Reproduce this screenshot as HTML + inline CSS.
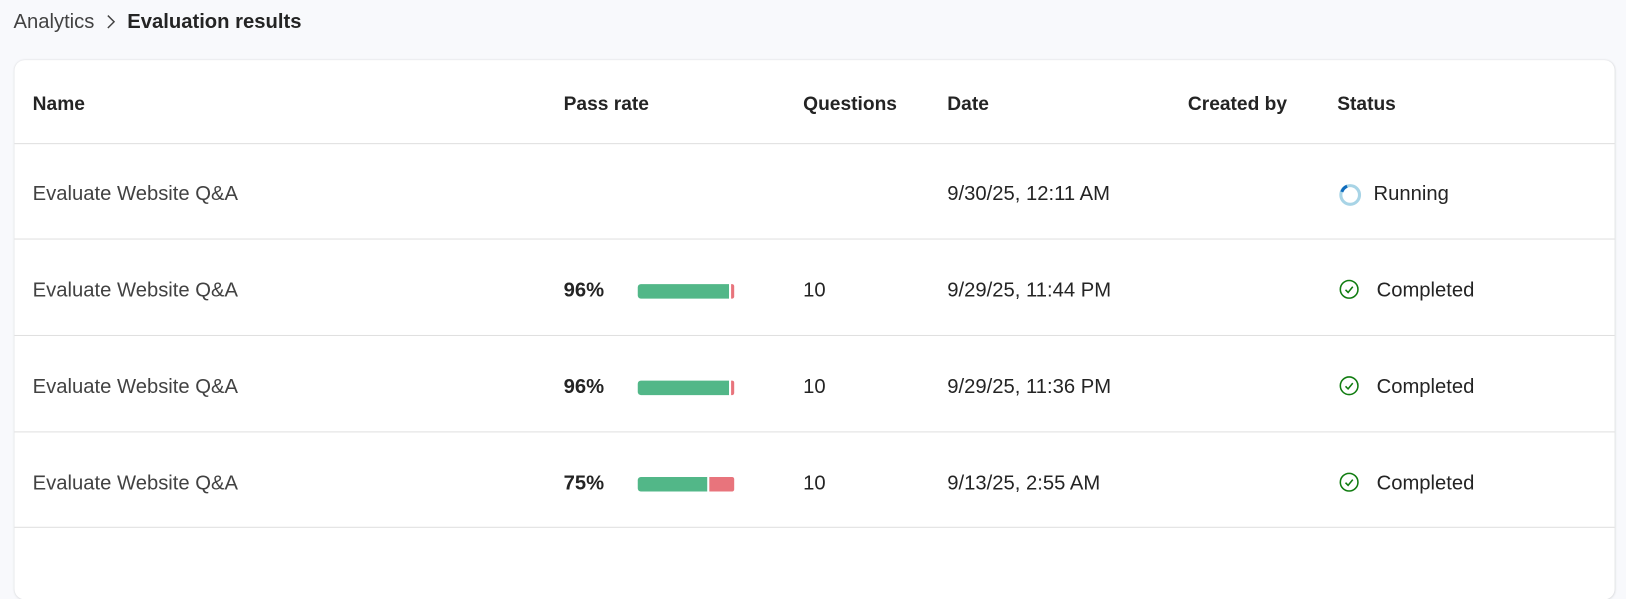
<!DOCTYPE html>
<html><head><style>
body{margin:0;width:1626px;height:531px;background:#f8f9fc;font-family:"Liberation Sans",sans-serif;color:#242424;overflow:hidden;position:relative}
.w{position:absolute;left:0;top:0;width:1568px;height:520px;transform:scale(1.037);transform-origin:0 0}
.bc{position:absolute;top:10px;left:13px;font-size:19.5px}
.bc .a{color:#424242}
.bc b{font-weight:bold;color:#242424}
.card{position:absolute;left:13.5px;top:58px;width:1543px;height:520px;background:#fff;border-radius:10px;box-shadow:0 0 2px rgba(0,0,0,.12),0 1px 3px rgba(0,0,0,.06)}
.row{position:absolute;left:0;width:1543px;border-bottom:1px solid #e0e0e0}
.t{position:absolute;font-size:19.5px;white-space:nowrap}
.h{font-weight:bold;font-size:18.5px}
.bar{position:absolute;left:601px;height:14px;width:93px}
.g{position:absolute;left:0;top:0;height:14px;background:#52b788;border-radius:3px 0 0 3px}
.r{position:absolute;top:0;height:14px;background:#e8747c;border-radius:0 2px 2px 0}
</style></head><body>
<div class="w">
<div class="bc"><span class="a">Analytics</span>&nbsp;&nbsp;<svg width="10" height="14" style="vertical-align:-1px"><path d="M2 1 L8 7 L2 13" fill="none" stroke="#424242" stroke-width="1.4"/></svg>&nbsp;&nbsp;<b>Evaluation results</b></div>
<div class="card">
<div class="row" style="top:0;height:80px">
<div class="t h" style="left:18px;top:31px">Name</div>
<div class="t h" style="left:530px;top:31px">Pass rate</div>
<div class="t h" style="left:761px;top:31px">Questions</div>
<div class="t h" style="left:900px;top:31px">Date</div>
<div class="t h" style="left:1132px;top:31px">Created by</div>
<div class="t h" style="left:1276px;top:31px">Status</div>
</div>
<div class="row" style="top:80px;height:92px">
<div class="t" style="left:18px;top:38px;color:#424242">Evaluate Website Q&amp;A</div>
<div class="t" style="left:900px;top:38px">9/30/25, 12:11 AM</div>
<svg style="position:absolute;left:1277px;top:39px" width="22" height="22"><circle cx="11" cy="11" r="9" fill="none" stroke="#a8d4e6" stroke-width="3"/><path d="M3 8 A9 9 0 0 1 8 2.5" fill="none" stroke="#0f6cbd" stroke-width="3"/></svg>
<div class="t" style="left:1311px;top:38px">Running</div>
</div>
<div class="row" style="top:173px;height:92px">
<div class="t" style="left:18px;top:38px;color:#424242">Evaluate Website Q&amp;A</div>
<div class="t" style="left:530px;top:38px;font-weight:bold">96%</div>
<div class="bar" style="top:43px"><div class="g" style="width:88px"></div><div class="r" style="left:90px;width:3px"></div></div>
<div class="t" style="left:761px;top:38px">10</div>
<div class="t" style="left:900px;top:38px">9/29/25, 11:44 PM</div>
<svg style="position:absolute;left:1277px;top:38px" width="22" height="22"><circle cx="10" cy="10" r="8.5" fill="none" stroke="#107c10" stroke-width="1.5"/><path d="M6.5 10.5 L9 13 L13.5 7.5" fill="none" stroke="#107c10" stroke-width="1.5"/></svg>
<div class="t" style="left:1314px;top:38px">Completed</div>
</div>
<div class="row" style="top:266px;height:92px">
<div class="t" style="left:18px;top:38px;color:#424242">Evaluate Website Q&amp;A</div>
<div class="t" style="left:530px;top:38px;font-weight:bold">96%</div>
<div class="bar" style="top:43px"><div class="g" style="width:88px"></div><div class="r" style="left:90px;width:3px"></div></div>
<div class="t" style="left:761px;top:38px">10</div>
<div class="t" style="left:900px;top:38px">9/29/25, 11:36 PM</div>
<svg style="position:absolute;left:1277px;top:38px" width="22" height="22"><circle cx="10" cy="10" r="8.5" fill="none" stroke="#107c10" stroke-width="1.5"/><path d="M6.5 10.5 L9 13 L13.5 7.5" fill="none" stroke="#107c10" stroke-width="1.5"/></svg>
<div class="t" style="left:1314px;top:38px">Completed</div>
</div>
<div class="row" style="top:358px;height:92px">
<div class="t" style="left:18px;top:39px;color:#424242">Evaluate Website Q&amp;A</div>
<div class="t" style="left:530px;top:39px;font-weight:bold">75%</div>
<div class="bar" style="top:44px"><div class="g" style="width:67px"></div><div class="r" style="left:69px;width:24px"></div></div>
<div class="t" style="left:761px;top:39px">10</div>
<div class="t" style="left:900px;top:39px">9/13/25, 2:55 AM</div>
<svg style="position:absolute;left:1277px;top:39px" width="22" height="22"><circle cx="10" cy="10" r="8.5" fill="none" stroke="#107c10" stroke-width="1.5"/><path d="M6.5 10.5 L9 13 L13.5 7.5" fill="none" stroke="#107c10" stroke-width="1.5"/></svg>
<div class="t" style="left:1314px;top:39px">Completed</div>
</div>
</div>
</div>
</body></html>
